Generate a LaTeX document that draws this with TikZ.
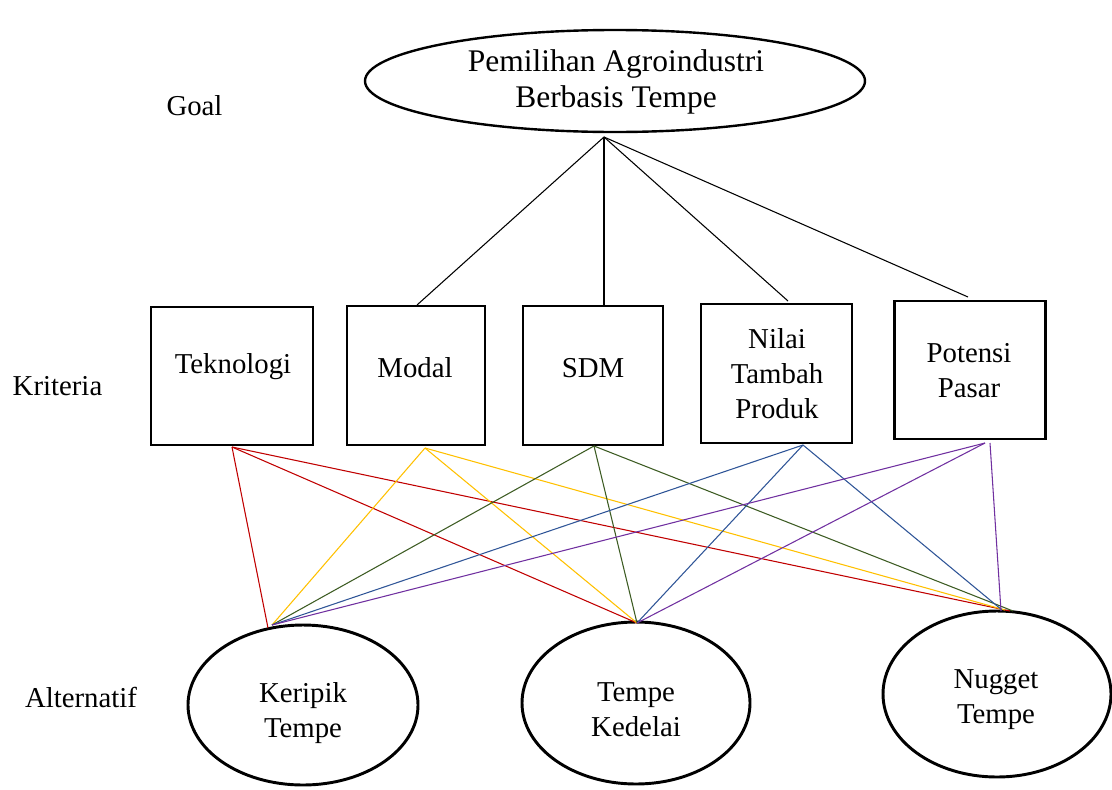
\documentclass[tikz,border=0pt]{standalone}
\usepackage{fontspec}
\setmainfont{Liberation Serif}
\usetikzlibrary{shapes.geometric}
\newcommand\txtfont{\fontsize{21.6}{26.5}\selectfont}
\newcommand\ttlfont{\fontsize{23.6}{27}\selectfont}
\newcommand\mlines[1]{\begin{tabular}[t]{@{}c@{}}#1\end{tabular}}
\newcommand\pxu{0.75pt}
\definecolor{cred}{HTML}{C00000}
\definecolor{cyel}{HTML}{FFC000}
\definecolor{cgrn}{HTML}{3D5C23}
\definecolor{cblu}{HTML}{2F5597}
\definecolor{cpur}{HTML}{7030A0}
\begin{document}
\begin{tikzpicture}[x=0.75pt,y=-0.75pt,
  critbox/.style={draw,line width=2.2pt,inner sep=0pt,outer sep=0pt},
  altell/.style={ellipse,draw,line width=2.2pt,inner sep=0pt,outer sep=0pt},
  lbl/.style={anchor=base,font=\txtfont,inner sep=0pt},
  ttl/.style={anchor=base,font=\ttlfont,inner sep=0pt},
  goalline/.style={line width=0.8pt,black},
  link/.style={line width=0.8pt}]
\useasboundingbox (0,0) rectangle (1112,789);

% goal
\node[altell,line width=1.8pt,minimum width=500*\pxu,minimum height=102*\pxu] (goal) at (615,81) {};
\node[ttl] (goaltxt) at (616,71) {\mlines{Pemilihan Agroindustri\\Berbasis Tempe}};

% level labels
\node[lbl] (lgoal) at (194.5,115) {Goal};
\node[lbl] (lkrit) at (57.5,395) {Kriteria};
\node[lbl] (lalt) at (81,707) {Alternatif};

% criteria boxes
\node[critbox,minimum width=162*\pxu,minimum height=138*\pxu] (tek) at (232,376) {};
\node[critbox,minimum width=138*\pxu,minimum height=139*\pxu] (mod) at (416,375.5) {};
\node[critbox,minimum width=140*\pxu,minimum height=139*\pxu] (sdm) at (593,375.5) {};
\node[critbox,minimum width=151*\pxu,minimum height=139*\pxu] (nil) at (776.5,373.5) {};
\node[critbox,minimum width=151*\pxu,minimum height=138*\pxu] (pot) at (970,370) {};

\node[lbl] (tektxt) at (233,373) {Teknologi};
\node[lbl] (modtxt) at (415,377) {Modal};
\node[lbl] (sdmtxt) at (593,377) {SDM};
\node[lbl] (niltxt) at (777,348) {\mlines{Nilai\\Tambah\\Produk}};
\node[lbl] (pottxt) at (969,362) {\mlines{Potensi\\Pasar}};

% alternatives
\node[altell,minimum width=230*\pxu,minimum height=160*\pxu] (ker) at (303,705) {};
\node[altell,minimum width=228*\pxu,minimum height=162*\pxu] (ked) at (636,703) {};
\node[altell,minimum width=228*\pxu,minimum height=166*\pxu] (nug) at (997,694) {};

\node[lbl] (kertxt) at (303,702) {\mlines{Keripik\\Tempe}};
\node[lbl] (kedtxt) at (636,701) {\mlines{Tempe\\Kedelai}};
\node[lbl] (nugtxt) at (996,688) {\mlines{Nugget\\Tempe}};

% connector end points
\coordinate (gB) at (604,137);
\coordinate (modT) at (417,305);
\coordinate (sdmT) at (604,305);
\coordinate (nilT) at (788,301);
\coordinate (potT) at (968,297);

\coordinate (tekB) at (232,447);
\coordinate (modB) at (425,448);
\coordinate (sdmB) at (594,446);
\coordinate (nilB) at (803,445);
\coordinate (potB) at (985,443);
\coordinate (potB2) at (990,443);

\coordinate (kerR) at (268,628);
\coordinate (kerT) at (272,625);
\coordinate (kedT) at (637,623);
\coordinate (nugR) at (1010,611);
\coordinate (nugY) at (1005,610);
\coordinate (nugG) at (1013,611);
\coordinate (nugB) at (1002,610);
\coordinate (nugP) at (1001,611);

% goal connectors
\draw[goalline] (gB) -- (modT);
\draw[goalline] (gB) -- (sdmT);
\draw[goalline] (gB) -- (nilT);
\draw[goalline] (gB) -- (potT);

% criteria to alternatives
\draw[link,cred] (tekB) -- (kerR);
\draw[link,cred] (tekB) -- (kedT);
\draw[link,cred] (tekB) -- (nugR);
\draw[link,cyel] (modB) -- (kerT);
\draw[link,cyel] (modB) -- (kedT);
\draw[link,cyel] (modB) -- (nugY);
\draw[link,cgrn] (sdmB) -- (kerT);
\draw[link,cgrn] (sdmB) -- (kedT);
\draw[link,cgrn] (sdmB) -- (nugG);
\draw[link,cblu] (nilB) -- (kerT);
\draw[link,cblu] (nilB) -- (kedT);
\draw[link,cblu] (nilB) -- (nugB);
\draw[link,cpur] (potB) -- (kerT);
\draw[link,cpur] (potB) -- (kedT);
\draw[link,cpur] (potB2) -- (nugP);
\end{tikzpicture}
\end{document}
